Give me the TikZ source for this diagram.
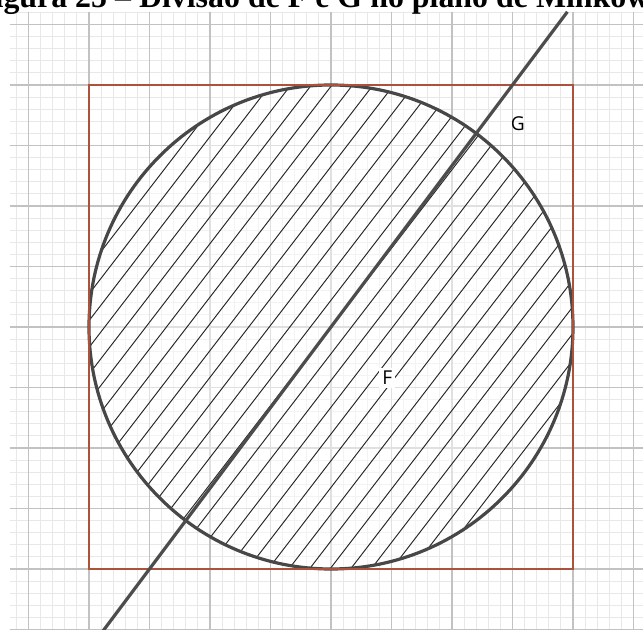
\documentclass[tikz,border=0pt]{standalone}
\usepackage{fontspec}
\setmainfont{Liberation Serif}
\newfontfamily\labelfont{Open Sans}
\usetikzlibrary{positioning}
\definecolor{framebrown}{RGB}{172,82,58}

\begin{document}
\begin{tikzpicture}[
        minorgrid/.style={draw=black!9, line width=0.4pt},
        majorgrid/.style={draw=black!24, line width=0.6pt},
        frame/.style={draw=framebrown, line width=1.3pt},
        disc/.style={draw=black!72, line width=1.5pt},
        hatch/.style={draw=black!85, line width=0.45pt},
        axis/.style={draw=black!70, line width=1.5pt},
        setlabel/.style={font=\labelfont\fontsize{9}{11}\selectfont, inner sep=1.5pt}
    ]
    
    \useasboundingbox (-5.471,-5.008) rectangle (5.157,5.405);
    
    % squared paper
    \draw[minorgrid, step=0.2] (-5.31,-5.1) grid (5.2,5.21);
    \draw[majorgrid, step=1] (-5.31,-5.1) grid (5.2,5.21);
    
    % caption, cut at the top
    \node[anchor=base west, inner sep=0pt, font=\bfseries\fontsize{15}{17}\selectfont]
        (title) at (-5.42,5.28) {\llap{Fi}gura 25 -- Divisão de F e G no plano de Minkowski};
    
    % hatched disc F
    \fill[white, opacity=0.5] (0,0) circle (4);
    \begin{scope}
        \clip (0,0) circle (4);
        \foreach \k in {-24,...,24}
            \draw[hatch] ({\k*0.34-5},-6.5) -- ++(10,13);
    \end{scope}
    \draw[disc] (0,0) circle (4);
    \draw[frame] (-4,-4) rectangle (4,4);
    
    % the line G
    \coordinate (gbot) at (-3.9,-5.2);
    \coordinate (gtop) at (3.9075,5.21);
    \draw[axis] (gbot) -- (gtop);
    
    \node[setlabel] (G) at (3.09,3.36) {G};
    \node[setlabel, fill=white] (F) at (0.93,-0.84) {F};
    
\end{tikzpicture}
\end{document}
